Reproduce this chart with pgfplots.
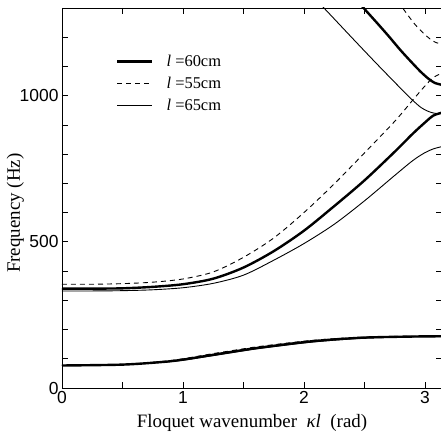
\documentclass[border=0pt]{standalone}
\usepackage{fontspec}
\setmainfont{Liberation Serif}
\newfontfamily\arialf{Liberation Sans}
\usepackage{pgfplots}
\pgfplotsset{compat=1.18}
\begin{document}
\begin{tikzpicture}
\begin{axis}[
  scale only axis,
  width=380bp, height=380bp,
  xmin=0, xmax=3.14159, ymin=0, ymax=1300,
  xtick={0,1,2,3}, xticklabels={0,1,2,3},
  minor xtick={0.5,1.5,2.5},
  ytick={0,500,1000}, yticklabels={0,500,1000},
  minor ytick={100,200,300,400,600,700,800,900,1100,1200},
  tick align=inside,
  major tick length=6bp, minor tick length=6bp,
  tick style={line width=0.7bp, black},
  axis line style={line width=0.9bp},
  /pgf/number format/assume math mode=true,
  ticklabel style={font=\fontsize{17.5}{20}\arialf},
  xlabel={Floquet wavenumber\ \ \textit{κl}\ \ (rad)},
  ylabel={Frequency (Hz)},
  label style={font=\fontsize{19}{22}\selectfont},
  xlabel style={at={(axis description cs:0.5,0)}, yshift=-39bp, anchor=base},
  ylabel style={at={(axis description cs:-0.111,0.46)}, anchor=base},
  legend style={draw=none, fill=none, at={(axis description cs:0,1)}, anchor=north west,
    xshift=54bp, yshift=-45bp, font=\fontsize{16.5}{18}\selectfont, row sep=5bp,
    inner sep=0pt, /tikz/every odd column/.append style={column sep=11bp}},
  legend cell align=left,
  legend image code/.code={\draw[#1] (0bp,0bp) -- (35bp,0bp);},
]
% second band
\addplot[black, line width=2.4bp, smooth] coordinates {
(0,340) (0.25,340) (0.5,341) (0.75,346) (1.0,355) (1.25,374) (1.5,412) (1.75,468)
(2.0,538) (2.25,622) (2.5,710) (2.75,808) (2.9,870) (3.0,908) (3.07,932) (3.1416,942)};
\addlegendentry{\textit{l} =60cm}
\addplot[black, line width=0.9bp, dash pattern=on 5bp off 4bp, smooth] coordinates {
(0,355) (0.25,355) (0.5,357) (0.75,362) (1.0,373) (1.25,397) (1.5,447) (1.75,513)
(2.0,600) (2.25,698) (2.5,804) (2.75,912) (2.9,985) (3.0,1033) (3.07,1062) (3.1416,1077)};
\addlegendentry{\textit{l} =55cm}
\addplot[black, line width=0.9bp, smooth] coordinates {
(0,332) (0.25,332) (0.5,333) (0.75,336) (1.0,343) (1.25,358) (1.5,386) (1.75,437)
(2.0,494) (2.25,560) (2.5,640) (2.75,727) (2.9,778) (3.0,805) (3.07,818) (3.1416,826)};
\addlegendentry{\textit{l} =65cm}
% lowest band
\addplot[black, line width=2.4bp, smooth, forget plot] coordinates {
(0,77) (0.5,80) (0.83,89) (1.0,97) (1.24,113) (1.5,130) (1.65,139) (2.07,160)
(2.48,172) (2.89,176) (3.1416,177)};
\addplot[black, line width=0.9bp, dash pattern=on 5bp off 4bp, smooth, forget plot] coordinates {
(0,77) (0.5,81) (0.83,91) (1.0,100) (1.24,117) (1.5,134) (1.65,143) (2.07,163)
(2.48,174) (2.89,177) (3.1416,177)};
\addplot[black, line width=0.9bp, smooth, forget plot] coordinates {
(0,77) (0.5,80) (0.83,88) (1.0,95) (1.24,110) (1.5,127) (1.65,136) (2.07,157)
(2.48,170) (2.89,175) (3.1416,176)};
% third band
\addplot[black, line width=2.4bp, smooth, forget plot] coordinates {
(2.40,1345) (2.5,1297) (2.6,1251) (2.7,1204) (2.8,1155) (2.9,1110) (2.97,1080)
(3.03,1058) (3.08,1044) (3.1416,1037)};
\addplot[black, line width=0.9bp, dash pattern=on 5bp off 4bp, smooth, forget plot] coordinates {
(2.74,1350) (2.8,1310) (2.86,1275) (2.92,1243) (2.98,1217) (3.04,1195) (3.09,1182) (3.1416,1177)};
\addplot[black, line width=0.9bp, smooth, forget plot] coordinates {
(2.05,1350) (2.2,1285) (2.4,1197) (2.6,1110) (2.8,1025) (2.9,984) (2.97,959)
(3.03,946) (3.08,940) (3.1416,938)};
\end{axis}
\pgfresetboundingbox
\path ([shift={(-62bp,-44bp)}]current axis.south west) rectangle ([shift={(-1bp,8bp)}]current axis.north east);
\end{tikzpicture}
\end{document}
